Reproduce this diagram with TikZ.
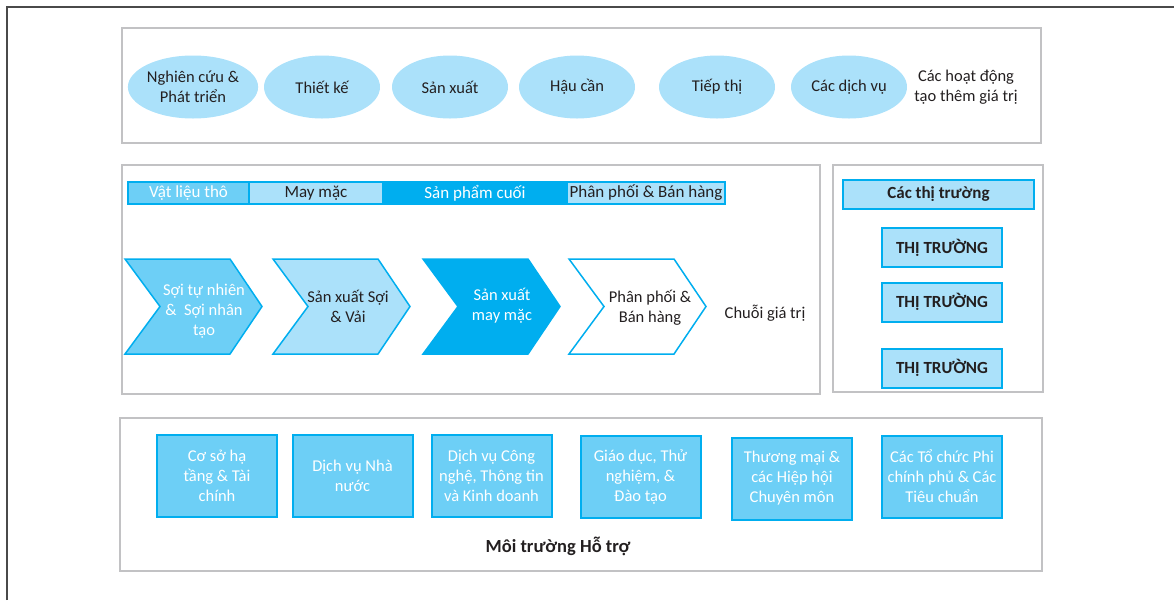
\documentclass[tikz,border=0pt]{standalone}
\usepackage{fontspec}
\setmainfont{Carlito}
\usetikzlibrary{shapes.geometric}
\definecolor{cyandark}{HTML}{00AEEF}
\definecolor{cyanmid}{HTML}{6DCFF6}
\definecolor{cyanlight}{HTML}{ABE1FA}
\definecolor{panelgray}{HTML}{C2C2C4}
\definecolor{framegray}{HTML}{4A4A4A}
\definecolor{inkdark}{HTML}{231F20}
\tikzset{
  panel/.style={draw=panelgray, line width=2pt},
  activity/.style={ellipse, fill=cyanlight, minimum width=116pt, minimum height=63pt, inner sep=0pt, align=center, text=inkdark},
  headcell/.style={draw=cyandark, line width=1.5pt, minimum height=22pt, inner sep=0pt, font=\fontsize{17}{19}\selectfont},
  chevron/.style={draw=cyandark, line width=1.5pt, line join=miter},
  chevtext/.style={align=center, inner sep=0pt},
  marketbox/.style={draw=cyandark, fill=cyanlight, line width=2pt, minimum width=120pt, minimum height=39pt, font=\fontsize{17}{19}\selectfont\bfseries, text=inkdark},
  supportbox/.style={draw=cyandark, fill=cyanmid, line width=2pt, minimum width=120pt, minimum height=82pt, align=center, inner sep=0pt, text=white}
}

\begin{document}
\begin{tikzpicture}[x=1pt, y=-1pt, font=\fontsize{16.5}{20}\selectfont, text=inkdark]
  \useasboundingbox (0,0) rectangle (1174,600);
  \draw[framegray, line width=1.5pt] (7,600) -- (7,7) -- (1174,7);

  % value-adding activities
  \draw[panel] (122,28) rectangle (1041,143);
  \node[activity] (research) at (193,87) {Nghiên cứu \&\\Phát triển};
  \node[activity] (design) at (322,87) {Thiết kế};
  \node[activity] (production) at (450,87) {Sản xuất};
  \node[activity] (logistics) at (577,87) {Hậu cần};
  \node[activity] (marketing) at (717,87) {Tiếp thị};
  \node[activity] (services) at (849,87) {Các dịch vụ};
  \node[align=center] (activitylabel) at (966,87) {Các hoạt động\\tạo thêm giá trị};

  % value chain
  \draw[panel] (122,165) rectangle (820,394);
  \node[headcell, fill=cyanmid, minimum width=121pt, text=white] (raw) at (188.5,193) {Vật liệu thô};
  \node[headcell, fill=cyanlight, minimum width=134pt] (apparel) at (316,193) {May mặc};
  \node[headcell, fill=cyandark, minimum width=184pt, text=white] (endproduct) at (475,193) {Sản phẩm cuối};
  \node[headcell, fill=cyanlight, minimum width=158pt] (retail) at (646,193) {Phân phối \& Bán hàng};

  \draw[chevron, fill=cyanmid] (125,259) -- ++(105,0) -- ++(32,47.5) -- ++(-32,47.5) -- ++(-105,0) -- ++(35,-47.5) -- cycle;
  \draw[chevron, fill=cyanlight] (273,259) -- ++(105,0) -- ++(32,47.5) -- ++(-32,47.5) -- ++(-105,0) -- ++(35,-47.5) -- cycle;
  \draw[chevron, fill=cyandark] (423,259) -- ++(105,0) -- ++(32,47.5) -- ++(-32,47.5) -- ++(-105,0) -- ++(35,-47.5) -- cycle;
  \draw[chevron, fill=white] (569,259) -- ++(105,0) -- ++(32,47.5) -- ++(-32,47.5) -- ++(-105,0) -- ++(35,-47.5) -- cycle;
  \node[chevtext, text=white] (fibre) at (204,311) {Sợi tự nhiên\\\&~ Sợi nhân\\tạo};
  \node[chevtext] (textile) at (348,306) {Sản xuất Sợi\\\& Vải};
  \node[chevtext, text=white] (garment) at (502,306) {Sản xuất\\may mặc};
  \node[chevtext] (distribution) at (650,308) {Phân phối \&\\Bán hàng};
  \node (chainlabel) at (765,313) {Chuỗi giá trị};

  % markets
  \draw[panel] (833,165) rectangle (1043,392);
  \node[marketbox, minimum width=191pt, minimum height=29pt] (markets) at (938.5,194.5) {Các thị trường};
  \node[marketbox] (market1) at (942,247.5) {THỊ TRƯỜNG};
  \node[marketbox] (market2) at (942,302) {THỊ TRƯỜNG};
  \node[marketbox] (market3) at (942,368) {THỊ TRƯỜNG};

  % supporting environment
  \draw[panel] (120,418) rectangle (1042,571);
  \node[supportbox] (infra) at (217,476) {Cơ sở hạ\\tầng \& Tài\\chính};
  \node[supportbox] (govt) at (352.5,476) {Dịch vụ Nhà\\nước};
  \node[supportbox] (tech) at (491.5,476) {Dịch vụ Công\\nghệ, Thông tin\\và Kinh doanh};
  \node[supportbox] (education) at (640.5,477) {Giáo dục, Thử\\nghiệm, \&\\Đào tạo};
  \node[supportbox] (trade) at (792,478.5) {Thương mại \&\\các Hiệp hội\\Chuyên môn};
  \node[supportbox] (ngo) at (942,476.5) {Các Tổ chức Phi\\chính phủ \& Các\\Tiêu chuẩn};
  \node[font=\fontsize{18.5}{21}\selectfont\bfseries] (supportlabel) at (558,546) {Môi trường Hỗ trợ};
\end{tikzpicture}
\end{document}
